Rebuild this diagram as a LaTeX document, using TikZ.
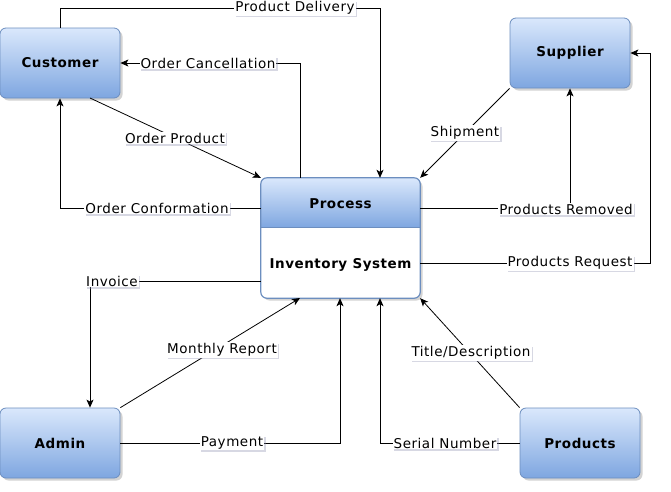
\documentclass[tikz,border=0pt]{standalone}
\usepackage{fontspec}
\setmainfont{DejaVu Sans}[LetterSpace=4]
\usetikzlibrary{arrows.meta,shadows,calc}
\definecolor{cTop}{HTML}{DAE8FC}
\definecolor{cBot}{HTML}{7EA6E0}
\definecolor{cBorder}{HTML}{6C8EBF}
\definecolor{cShadow}{HTML}{8C90B0}
\tikzset{
  ent/.style={rounded corners=6pt, draw=cBorder, line width=0.8pt,
    top color=cTop, bottom color=cBot, minimum width=120pt, minimum height=70pt,
    font=\fontsize{13.5}{15}\selectfont\bfseries,
    drop shadow={shadow xshift=2.5pt, shadow yshift=-2.5pt, opacity=0.35, fill=gray}},
  lbl/.style={fill=white, inner sep=1pt, font=\fontsize{13.5}{15}\selectfont,
    drop shadow={shadow xshift=1.5pt, shadow yshift=-1.5pt, opacity=0.35, fill=cShadow}},
  arr/.style={draw=black, line width=0.8pt, -{Stealth[length=8pt,width=7pt,inset=2pt]}},
  ln/.style={draw=black, line width=0.8pt},
}
\begin{document}
\begin{tikzpicture}[x=1pt,y=-1pt]
\useasboundingbox (0,0) rectangle (671,491);
% entities
\node[ent] (cust) at (60,63) {Customer};
\node[ent] (sup) at (570,53) {Supplier};
\node[ent] (adm) at (60,443) {Admin};
\node[ent] (prod) at (580,443) {Products};
% process box
\node[fill=white, rounded corners=6pt, minimum width=159pt, minimum height=120pt,
  drop shadow={shadow xshift=2.5pt, shadow yshift=-2.5pt, opacity=0.35, fill=gray}] (proc) at (340.5,238) {};
\begin{scope}
\clip[rounded corners=6pt] (proc.south west) rectangle (proc.north east);
\shade[top color=cTop, bottom color=cBot] (proc.north west) rectangle ($(proc.north east)+(0,50)$);
\end{scope}
\draw[cBorder, line width=1.2pt, rounded corners=6pt] (proc.south west) rectangle (proc.north east);
\draw[cBorder, line width=0.8pt] ($(proc.north west)+(0,50)$) -- ($(proc.north east)+(0,50)$);
\node[font=\fontsize{13.5}{15}\selectfont\bfseries] (ptitle) at (340.5,204) {Process};
\node[font=\fontsize{13.5}{15}\selectfont\bfseries] (pbody) at (340.5,265) {Inventory System};
% bend coordinates
\coordinate (b1) at (380,8);
\coordinate (b2) at (300,63);
\coordinate (b4) at (60,208);
\coordinate (b6) at (570,208);
\coordinate (b7a) at (650,263);
\coordinate (b7b) at (650,53);
\coordinate (b8) at (90,281);
\coordinate (b10) at (340,443);
\coordinate (b12) at (380,443);
\coordinate (s3) at (90,98);
\coordinate (e9) at (300,298);
% connectors
\draw[arr] (cust.north) |- (b1) -- (b1 |- proc.north);
\draw[arr] (b2 |- proc.north) -- (b2) -- (cust.east);
\draw[arr] (s3) -- (proc.north west);
\draw[arr] (b4 -| proc.west) -- (b4) -- (cust.south);
\draw[arr] (sup.south west) -- (proc.north east);
\draw[arr] (b6 -| proc.east) -- (b6) -- (sup.south);
\draw[arr] (b7a -| proc.east) -- (b7a) -- (b7b) -- (sup.east);
\draw[arr] (b8 -| proc.west) -- (b8) -- (b8 |- adm.north);
\draw[arr] (adm.north east) -- (e9);
\draw[arr] (adm.east) -- (b10) -- (b10 |- proc.south);
\draw[arr] (prod.north west) -- (proc.south east);
\draw[arr] (prod.west) -- (b12) -- (b12 |- proc.south);
% labels
\node[lbl] (l1) at (295,8) {Product Delivery};
\node[lbl] (l2) at (208,63) {Order Cancellation};
\node[lbl] (l3) at (175,138) {Order Product};
\node[lbl] (l4) at (157,208) {Order Conformation};
\node[lbl] (l5) at (465,133) {Shipment};
\node[lbl] (l6) at (566,209) {Products Removed};
\node[lbl] (l7) at (570,263) {Products Request};
\node[lbl] (l8) at (112,281) {Invoice};
\node[lbl] (l9) at (222,350) {Monthly Report};
\node[lbl] (l10) at (232,443) {Payment};
\node[lbl] (l11) at (471,353) {Title/Description};
\node[lbl] (l12) at (445,443) {Serial Number};
\end{tikzpicture}
\end{document}
